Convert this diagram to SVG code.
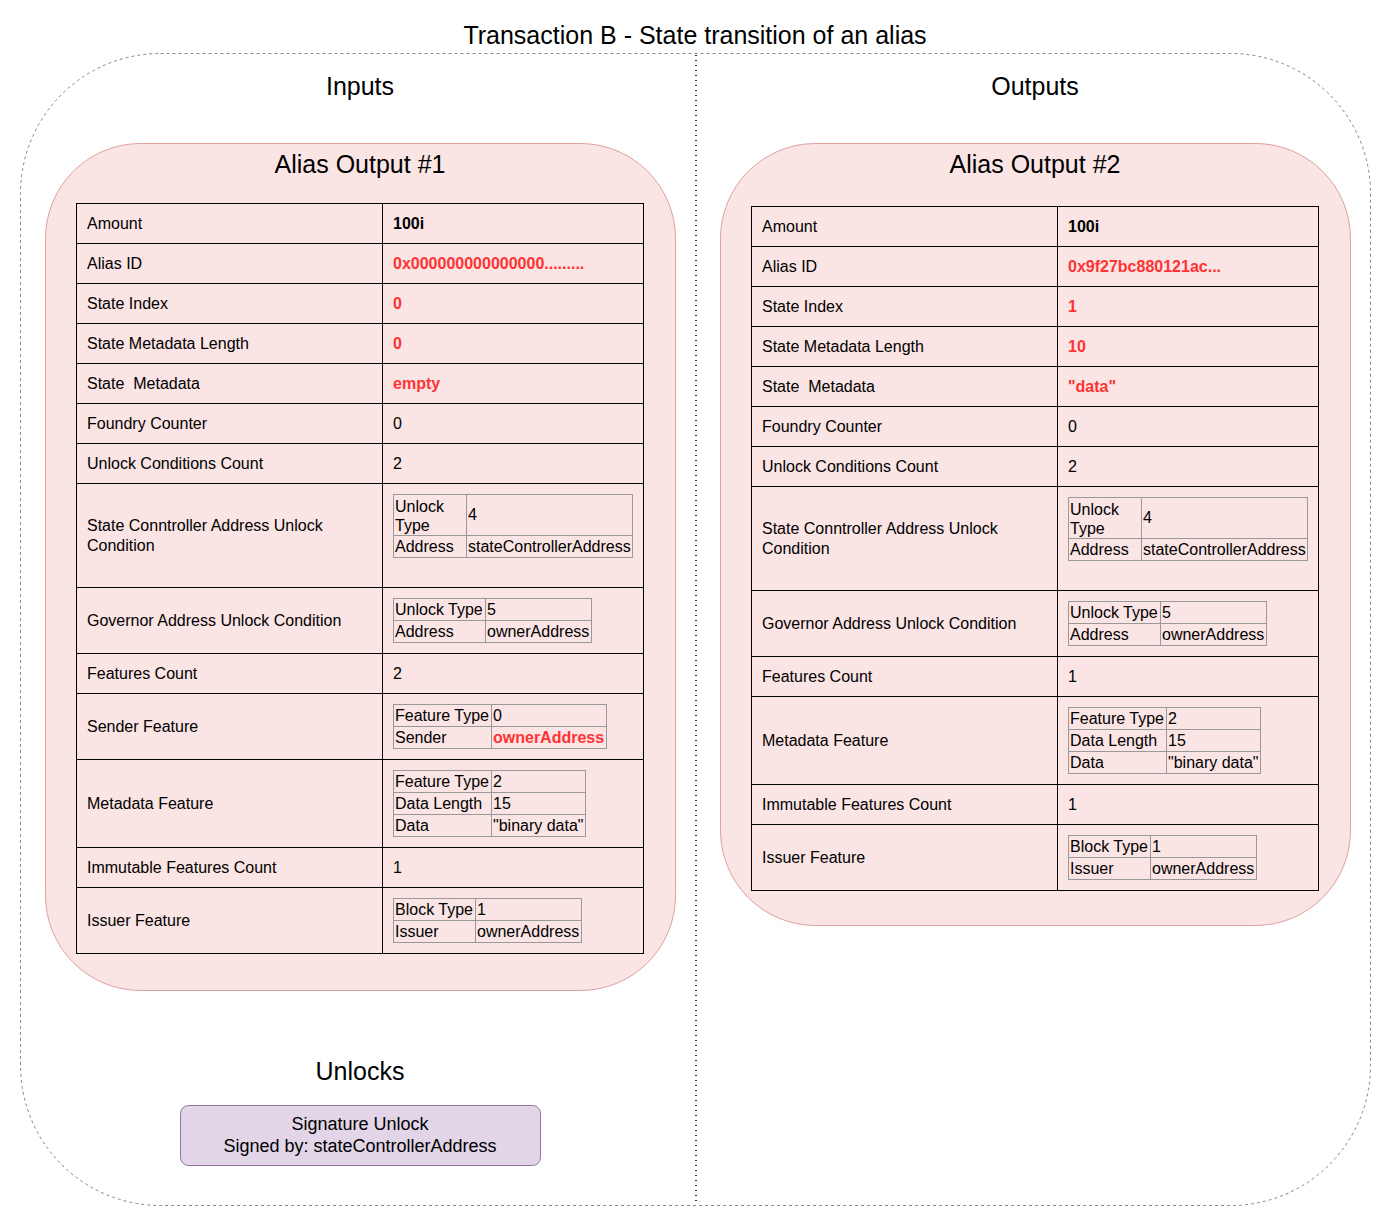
<svg xmlns="http://www.w3.org/2000/svg" width="1391" height="1229" viewBox="0 0 1391 1229">
<style>
text{font-family:"Liberation Sans",Arial,sans-serif;fill:#000}
.t24{font-size:25px;text-anchor:middle}
.t16{font-size:16px}
.t18{font-size:18px;text-anchor:middle}
.b{font-weight:bold}
.r{fill:#ff3333}
.row{fill:none;stroke:#000;stroke-width:1}
.in{fill:none;stroke:#999;stroke-width:1}
.cont{fill:#fae4e4;stroke:#e0a0a0;stroke-width:1}
</style>
<rect width="1391" height="1229" fill="#fff"/>
<g id="frame">
<rect x="20.5" y="53.5" width="1350" height="1152" rx="140" ry="140" fill="none" stroke="#888" stroke-dasharray="3 3"/>
<text class="t24" x="695" y="44">Transaction B - State transition of an alias</text>
<text class="t24" x="360" y="95">Inputs</text>
<text class="t24" x="1035" y="95">Outputs</text>
</g>
<g id="connectors">
<line x1="696" y1="55" x2="696" y2="1205" stroke="#333" stroke-width="2" stroke-dasharray="1 4"/>
</g>
<g id="alias1">
<rect class="cont" x="45.5" y="143.5" width="630" height="847" rx="95" ry="95"/>
<text class="t24" x="360" y="173">Alias Output #1</text>
<rect class="row" x="76.5" y="203.5" width="567" height="750" fill="#fae4e4"/>
<g class="row">
<line x1="382.5" y1="203" x2="382.5" y2="953"/>
<line x1="76" y1="243.5" x2="643" y2="243.5"/>
<line x1="76" y1="283.5" x2="643" y2="283.5"/>
<line x1="76" y1="323.5" x2="643" y2="323.5"/>
<line x1="76" y1="363.5" x2="643" y2="363.5"/>
<line x1="76" y1="403.5" x2="643" y2="403.5"/>
<line x1="76" y1="443.5" x2="643" y2="443.5"/>
<line x1="76" y1="483.5" x2="643" y2="483.5"/>
<line x1="76" y1="587.5" x2="643" y2="587.5"/>
<line x1="76" y1="653.5" x2="643" y2="653.5"/>
<line x1="76" y1="693.5" x2="643" y2="693.5"/>
<line x1="76" y1="759.5" x2="643" y2="759.5"/>
<line x1="76" y1="847.5" x2="643" y2="847.5"/>
<line x1="76" y1="887.5" x2="643" y2="887.5"/>
</g>
<g class="t16">
<text x="87" y="229">Amount</text>
<text x="87" y="269">Alias ID</text>
<text x="87" y="309">State Index</text>
<text x="87" y="349">State Metadata Length</text>
<text x="87" y="389" xml:space="preserve">State  Metadata</text>
<text x="87" y="429">Foundry Counter</text>
<text x="87" y="469">Unlock Conditions Count</text>
<text x="87" y="531">State Conntroller Address Unlock</text>
<text x="87" y="551">Condition</text>
<text x="87" y="626">Governor Address Unlock Condition</text>
<text x="87" y="679">Features Count</text>
<text x="87" y="732">Sender Feature</text>
<text x="87" y="809">Metadata Feature</text>
<text x="87" y="873">Immutable Features Count</text>
<text x="87" y="926">Issuer Feature</text>
<text x="393" y="229" class="b">100i</text>
<text x="393" y="269" class="b r">0x000000000000000.........</text>
<text x="393" y="309" class="b r">0</text>
<text x="393" y="349" class="b r">0</text>
<text x="393" y="389" class="b r">empty</text>
<text x="393" y="429">0</text>
<text x="393" y="469">2</text>
<text x="393" y="679">2</text>
<text x="393" y="873">1</text>
</g>
<g class="in">
<rect x="393.5" y="494.5" width="239" height="63"/>
<line x1="466.5" y1="494" x2="466.5" y2="557"/>
<line x1="393" y1="535.5" x2="632" y2="535.5"/>
<rect x="393.5" y="598.5" width="198" height="44"/>
<line x1="485.5" y1="598" x2="485.5" y2="642"/>
<line x1="393" y1="620.5" x2="591" y2="620.5"/>
<rect x="393.5" y="704.5" width="213" height="44"/>
<line x1="491.5" y1="704" x2="491.5" y2="748"/>
<line x1="393" y1="726.5" x2="606" y2="726.5"/>
<rect x="393.5" y="770.5" width="192" height="66"/>
<line x1="491.5" y1="770" x2="491.5" y2="836"/>
<line x1="393" y1="792.5" x2="585" y2="792.5"/>
<line x1="393" y1="814.5" x2="585" y2="814.5"/>
<rect x="393.5" y="898.5" width="188" height="44"/>
<line x1="475.5" y1="898" x2="475.5" y2="942"/>
<line x1="393" y1="920.5" x2="581" y2="920.5"/>
</g>
<g class="t16">
<text x="395" y="512">Unlock</text>
<text x="395" y="531">Type</text>
<text x="468" y="520">4</text>
<text x="395" y="552">Address</text>
<text x="468" y="552">stateControllerAddress</text>
<text x="395" y="615">Unlock Type</text>
<text x="487" y="615">5</text>
<text x="395" y="637">Address</text>
<text x="487" y="637">ownerAddress</text>
<text x="395" y="721">Feature Type</text>
<text x="493" y="721">0</text>
<text x="395" y="743">Sender</text>
<text x="493" y="743" class="b r">ownerAddress</text>
<text x="395" y="787">Feature Type</text>
<text x="493" y="787">2</text>
<text x="395" y="809">Data Length</text>
<text x="493" y="809">15</text>
<text x="395" y="831">Data</text>
<text x="493" y="831">"binary data"</text>
<text x="395" y="915">Block Type</text>
<text x="477" y="915">1</text>
<text x="395" y="937">Issuer</text>
<text x="477" y="937">ownerAddress</text>
</g>
</g>
<g id="alias2">
<rect class="cont" x="720.5" y="143.5" width="630" height="782" rx="95" ry="95"/>
<text class="t24" x="1035" y="173">Alias Output #2</text>
<rect class="row" x="751.5" y="206.5" width="567" height="684" fill="#fae4e4"/>
<g class="row">
<line x1="1057.5" y1="206" x2="1057.5" y2="890"/>
<line x1="751" y1="246.5" x2="1318" y2="246.5"/>
<line x1="751" y1="286.5" x2="1318" y2="286.5"/>
<line x1="751" y1="326.5" x2="1318" y2="326.5"/>
<line x1="751" y1="366.5" x2="1318" y2="366.5"/>
<line x1="751" y1="406.5" x2="1318" y2="406.5"/>
<line x1="751" y1="446.5" x2="1318" y2="446.5"/>
<line x1="751" y1="486.5" x2="1318" y2="486.5"/>
<line x1="751" y1="590.5" x2="1318" y2="590.5"/>
<line x1="751" y1="656.5" x2="1318" y2="656.5"/>
<line x1="751" y1="696.5" x2="1318" y2="696.5"/>
<line x1="751" y1="784.5" x2="1318" y2="784.5"/>
<line x1="751" y1="824.5" x2="1318" y2="824.5"/>
</g>
<g class="t16">
<text x="762" y="232">Amount</text>
<text x="762" y="272">Alias ID</text>
<text x="762" y="312">State Index</text>
<text x="762" y="352">State Metadata Length</text>
<text x="762" y="392" xml:space="preserve">State  Metadata</text>
<text x="762" y="432">Foundry Counter</text>
<text x="762" y="472">Unlock Conditions Count</text>
<text x="762" y="534">State Conntroller Address Unlock</text>
<text x="762" y="554">Condition</text>
<text x="762" y="629">Governor Address Unlock Condition</text>
<text x="762" y="682">Features Count</text>
<text x="762" y="746">Metadata Feature</text>
<text x="762" y="810">Immutable Features Count</text>
<text x="762" y="863">Issuer Feature</text>
<text x="1068" y="232" class="b">100i</text>
<text x="1068" y="272" class="b r">0x9f27bc880121ac...</text>
<text x="1068" y="312" class="b r">1</text>
<text x="1068" y="352" class="b r">10</text>
<text x="1068" y="392" class="b r">"data"</text>
<text x="1068" y="432">0</text>
<text x="1068" y="472">2</text>
<text x="1068" y="682">1</text>
<text x="1068" y="810">1</text>
</g>
<g class="in">
<rect x="1068.5" y="497.5" width="239" height="63"/>
<line x1="1141.5" y1="497" x2="1141.5" y2="560"/>
<line x1="1068" y1="538.5" x2="1307" y2="538.5"/>
<rect x="1068.5" y="601.5" width="198" height="44"/>
<line x1="1160.5" y1="601" x2="1160.5" y2="645"/>
<line x1="1068" y1="623.5" x2="1266" y2="623.5"/>
<rect x="1068.5" y="707.5" width="192" height="66"/>
<line x1="1166.5" y1="707" x2="1166.5" y2="773"/>
<line x1="1068" y1="729.5" x2="1260" y2="729.5"/>
<line x1="1068" y1="751.5" x2="1260" y2="751.5"/>
<rect x="1068.5" y="835.5" width="188" height="44"/>
<line x1="1150.5" y1="835" x2="1150.5" y2="879"/>
<line x1="1068" y1="857.5" x2="1256" y2="857.5"/>
</g>
<g class="t16">
<text x="1070" y="515">Unlock</text>
<text x="1070" y="534">Type</text>
<text x="1143" y="523">4</text>
<text x="1070" y="555">Address</text>
<text x="1143" y="555">stateControllerAddress</text>
<text x="1070" y="618">Unlock Type</text>
<text x="1162" y="618">5</text>
<text x="1070" y="640">Address</text>
<text x="1162" y="640">ownerAddress</text>
<text x="1070" y="724">Feature Type</text>
<text x="1168" y="724">2</text>
<text x="1070" y="746">Data Length</text>
<text x="1168" y="746">15</text>
<text x="1070" y="768">Data</text>
<text x="1168" y="768">"binary data"</text>
<text x="1070" y="852">Block Type</text>
<text x="1152" y="852">1</text>
<text x="1070" y="874">Issuer</text>
<text x="1152" y="874">ownerAddress</text>
</g>
</g>
<g id="unlocks">
<text class="t24" x="360" y="1080">Unlocks</text>
<rect x="180.5" y="1105.5" width="360" height="60" rx="8" ry="8" fill="#e1d5e7" stroke="#9673a6"/>
<text class="t18" x="360" y="1130">Signature Unlock</text>
<text class="t18" x="360" y="1152">Signed by: stateControllerAddress</text>
</g>
</svg>
